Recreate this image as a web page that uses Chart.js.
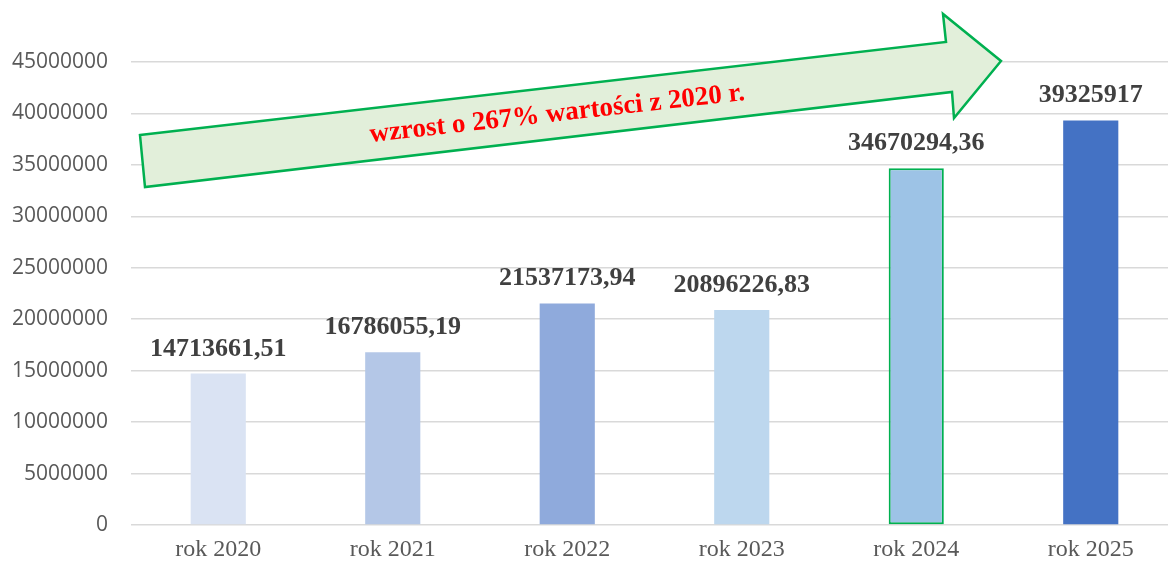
<!DOCTYPE html>
<html>
<head>
<meta charset="utf-8">
<script src="https://cdn.jsdelivr.net/npm/chart.js@4"></script>
<style>
  html, body { margin: 0; padding: 0; background: #fff; overflow: hidden; }
  #clip { width: 1168px; height: 565px; overflow: hidden; }
  #wrap { width: 1178px; height: 565px; }
</style>
</head>
<body>
<div id="clip"><div id="wrap"><canvas id="myChart"></canvas></div></div>
<script>
'use strict';
const categories = ['rok 2020', 'rok 2021', 'rok 2022', 'rok 2023', 'rok 2024', 'rok 2025'];
const values = [14713661.51, 16786055.19, 21537173.94, 20896226.83, 34670294.36, 39325917];
const barColors = ['#DAE3F3', '#B4C7E7', '#8FAADC', '#BDD7EE', '#9DC3E6', '#4472C4'];
const yTicks = [0, 5000000, 10000000, 15000000, 20000000, 25000000, 30000000, 35000000, 40000000, 45000000];
const arrowText = 'wzrost o 267% wartości z 2020 r.';

// Value labels above the bars (Polish decimal comma)
const valueLabels = {
    id: 'valueLabels',
    afterDatasetsDraw(chart) {
        const ctx = chart.ctx;
        const meta = chart.getDatasetMeta(0);
        ctx.save();
        ctx.font = 'bold 26px "Liberation Serif"';
        ctx.fillStyle = '#404040';
        ctx.textAlign = 'center';
        ctx.textBaseline = 'alphabetic';
        meta.data.forEach((bar, i) => {
            ctx.fillText(String(values[i]).replace('.', ','), bar.x, bar.y - 18);
        });
        ctx.restore();
    }
};

// Green growth arrow with the red caption
const growthArrow = {
    id: 'growthArrow',
    afterDatasetsDraw(chart) {
        const ctx = chart.ctx;
        const pts = [[140, 135], [946, 42], [943, 14], [1001, 61], [954, 118], [952, 92], [145, 187]];
        ctx.save();
        ctx.beginPath();
        pts.forEach((p, i) => i ? ctx.lineTo(p[0], p[1]) : ctx.moveTo(p[0], p[1]));
        ctx.closePath();
        ctx.fillStyle = '#E2EFDA';
        ctx.fill();
        ctx.lineWidth = 2.5;
        ctx.strokeStyle = '#00B050';
        ctx.lineJoin = 'miter';
        ctx.stroke();

        ctx.translate(558, 121);
        ctx.rotate(-6.4 * Math.PI / 180);
        ctx.font = 'bold 27px "Liberation Serif"';
        ctx.fillStyle = '#FF0000';
        ctx.textAlign = 'center';
        ctx.textBaseline = 'alphabetic';
        ctx.fillText(arrowText, 0, 0);
        ctx.restore();
    }
};

function renderChart() {
    const ctx = document.getElementById('myChart').getContext('2d');
    new Chart(ctx, {
        type: 'bar',
        data: {
            labels: categories,
            datasets: [{
                data: values,
                backgroundColor: barColors,
                borderColor: values.map((v, i) => i === 4 ? '#00B050' : 'rgba(0,0,0,0)'),
                borderWidth: values.map((v, i) => i === 4 ? 2 : 0),
                borderSkipped: false,
                barPercentage: 0.316,
                categoryPercentage: 1
            }]
        },
        options: {
            responsive: true,
            maintainAspectRatio: false,
            animation: false,
            layout: { padding: { top: 62, right: 0, left: 0, bottom: 0 } },
            plugins: {
                legend: { display: false },
                tooltip: { enabled: false }
            },
            scales: {
                x: {
                    grid: { display: false, drawTicks: false },
                    border: { display: false },
                    ticks: {
                        color: '#595959',
                        font: { family: '"Liberation Serif"', size: 24 },
                        padding: 10,
                        maxRotation: 0
                    },
                    afterFit(scale) { scale.height = 40; }
                },
                y: {
                    min: 0,
                    max: 45000000,
                    afterBuildTicks(scale) { scale.ticks = yTicks.map(v => ({ value: v })); },
                    grid: { color: '#D9D9D9', lineWidth: 1.5, drawTicks: false },
                    border: { display: false },
                    ticks: {
                        color: '#595959',
                        font: { family: '"Open Sans"', size: 21 },
                        padding: 23,
                        callback: v => String(v)
                    },
                    afterFit(scale) { scale.width = 131; }
                }
            }
        },
        plugins: [valueLabels, growthArrow]
    });
}

renderChart();
</script>
</body>
</html>
